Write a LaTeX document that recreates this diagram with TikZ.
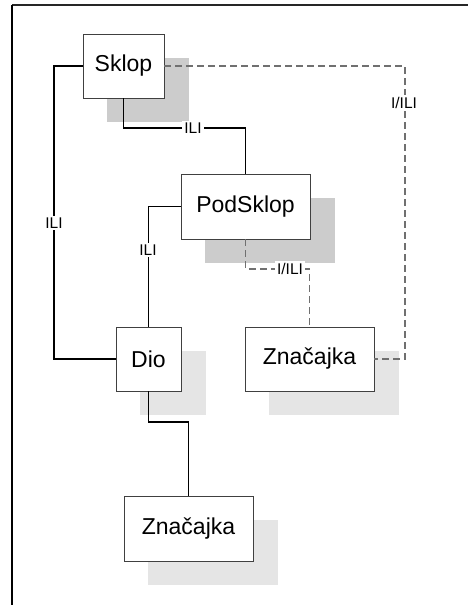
\documentclass[tikz,border=0pt]{standalone}
\usepackage{fontspec}
\setmainfont{Liberation Sans}
\usetikzlibrary{backgrounds}
\definecolor{shadowdark}{HTML}{CCCCCC}
\definecolor{shadowlight}{HTML}{E5E5E5}
\definecolor{boxedge}{HTML}{404040}
\definecolor{dashgray}{HTML}{707070}
\tikzset{
  entity/.style={draw=boxedge, line width=0.9pt, fill=white, inner sep=0pt,
    font=\fontsize{23}{27}\selectfont},
  link/.style={line width=1.6pt, black},
  optlink/.style={line width=1.2pt, dashgray, dash pattern=on 7pt off 4pt},
  lbl/.style={fill=white, inner sep=2pt, font=\fontsize{15.5}{18}\selectfont},
}
\begin{document}
\begin{tikzpicture}[x=1pt,y=-1pt]
\useasboundingbox (0,0) rectangle (468,605);
% frame
\coordinate (ftl) at (12,5);
\coordinate (ftr) at (468,5);
\coordinate (fbl) at (12,605);
\draw[line width=1.5pt, black!85] (ftl) -- (ftr);
\draw[line width=1.5pt, black] (ftl) -- (fbl);
% boxes
\node[entity, minimum width=81pt, minimum height=64pt] (sklop) at (123.5,66) {Sklop};
\node[entity, minimum width=129pt, minimum height=65pt] (pod) at (245.5,206.5) {PodSklop};
\node[entity, minimum width=65pt, minimum height=64pt] (dio) at (148.5,359) {Dio};
\node[entity, minimum width=129pt, minimum height=64pt] (zn1) at (309.5,359) {Značajka};
\node[entity, minimum width=129pt, minimum height=65pt] (zn2) at (188.5,528.5) {Značajka};
% shadows
\begin{scope}[on background layer]
\fill[shadowdark] ([shift={(24.5,24)}]sklop.north west) rectangle ([shift={(24.5,24)}]sklop.south east);
\fill[shadowdark] ([shift={(24.5,24)}]pod.north west) rectangle ([shift={(24.5,24)}]pod.south east);
\fill[shadowlight] ([shift={(24.5,24)}]dio.north west) rectangle ([shift={(24.5,24)}]dio.south east);
\fill[shadowlight] ([shift={(24.5,24)}]zn1.north west) rectangle ([shift={(24.5,24)}]zn1.south east);
\fill[shadowlight] ([shift={(24.5,24)}]zn2.north west) rectangle ([shift={(24.5,24)}]zn2.south east);
\end{scope}
% bend points
\coordinate (a1) at (54,66);
\coordinate (b1) at (123.5,128);
\coordinate (c1) at (405,66);
\coordinate (c2) at (405,359);
\coordinate (d1) at (148.5,206.5);
\coordinate (e1) at (245.5,269);
\coordinate (f1) at (148.5,422);
% connectors
\draw[link] (sklop.west) -- (a1) |- (dio.west);
\draw[link] (sklop.south) -- (b1) -| (pod.north);
\draw[optlink] (sklop.east) -- (c1) -- (c2) -- (zn1.east);
\draw[link] (pod.west) -- (d1) -- (dio.north);
\draw[optlink] (pod.south) -- (e1) -| (zn1.north);
\draw[link] (dio.south) -- (f1) -| (zn2.north);
% labels
\node[lbl] (l1) at (193,128) {ILI};
\node[lbl] (l2) at (404,103) {I/ILI};
\node[lbl] (l3) at (54,223) {ILI};
\node[lbl] (l4) at (148,250) {ILI};
\node[lbl] (l5) at (290,269) {I/ILI};
\end{tikzpicture}
\end{document}
